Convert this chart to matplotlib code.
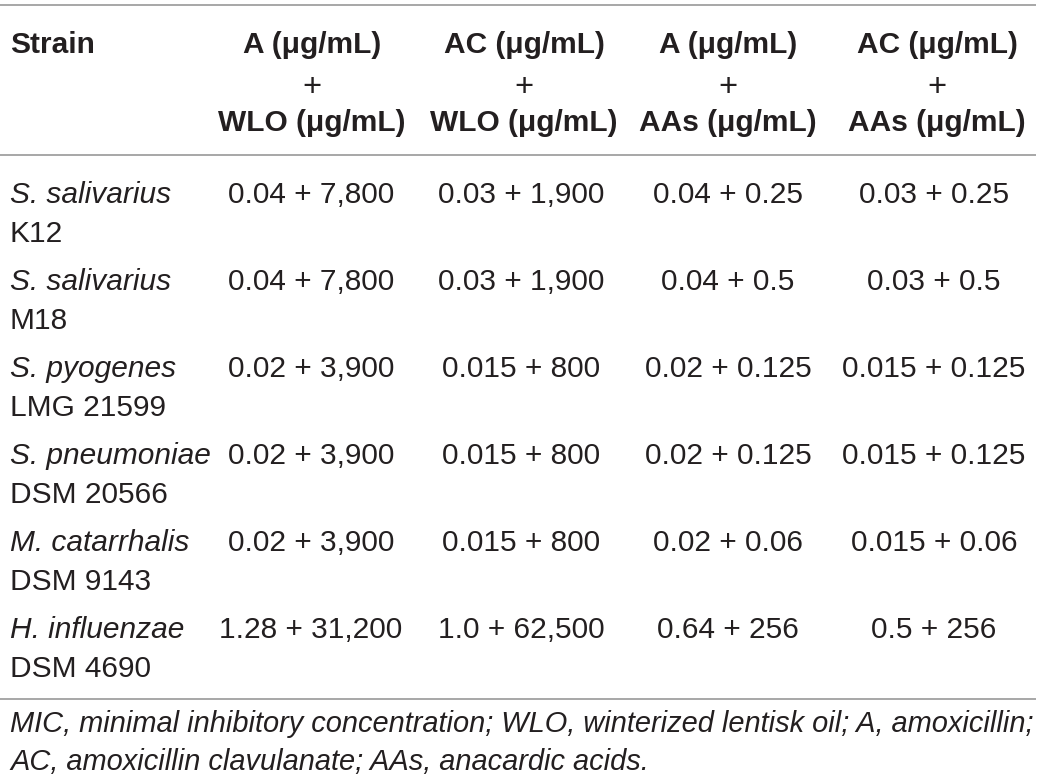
import matplotlib.pyplot as plt

# table content
strain_names = ["S. salivarius", "S. salivarius", "S. pyogenes", "S. pneumoniae",
                "M. catarrhalis", "H. influenzae"]
strain_ids = ["K12", "M18", "LMG 21599", "DSM 20566", "DSM 9143", "DSM 4690"]

header_top = ["A (μg/mL)", "AC (μg/mL)", "A (μg/mL)", "AC (μg/mL)"]
header_bottom = ["WLO (μg/mL)", "WLO (μg/mL)", "AAs (μg/mL)", "AAs (μg/mL)"]

a_wlo = ["0.04 + 7,800", "0.04 + 7,800", "0.02 + 3,900", "0.02 + 3,900",
         "0.02 + 3,900", "1.28 + 31,200"]
ac_wlo = ["0.03 + 1,900", "0.03 + 1,900", "0.015 + 800", "0.015 + 800",
          "0.015 + 800", "1.0 + 62,500"]
a_aas = ["0.04 + 0.25", "0.04 + 0.5", "0.02 + 0.125", "0.02 + 0.125",
         "0.02 + 0.06", "0.64 + 256"]
ac_aas = ["0.03 + 0.25", "0.03 + 0.5", "0.015 + 0.125", "0.015 + 0.125",
          "0.015 + 0.06", "0.5 + 256"]

footnote = ["MIC, minimal inhibitory concentration; WLO, winterized lentisk oil; A, amoxicillin;",
            "AC, amoxicillin clavulanate; AAs, anacardic acids."]

txt = "#231f20"
line_col = "#a0a0a0"
fs = 21.5
font = ["Liberation Sans", "DejaVu Sans"]

fig = plt.figure(figsize=(10.42, 7.84), dpi=100)
ax = fig.add_axes([0, 0, 1, 1])
ax.set_xlim(0, 1042)
ax.set_ylim(784, 0)
ax.axis("off")

# rules
for y in (5, 155, 699):
    ax.plot([0, 1036], [y, y], color=line_col, lw=1.3, solid_capstyle="butt")

head_x = [312, 524, 728, 937]
col_x = [311, 521, 728, 934]

ax.text(10, 53, "Strain", fontsize=fs, fontweight="bold", family=font,
        color=txt, va="baseline", ha="left")
for i in range(4):
    ax.text(head_x[i], 53, header_top[i], fontsize=fs, fontweight="bold",
            family=font, color=txt, va="baseline", ha="center")
    ax.text(head_x[i], 96, "+", fontsize=fs + 2, family=font, color=txt,
            va="baseline", ha="center")
    ax.text(head_x[i], 131, header_bottom[i], fontsize=fs, fontweight="bold",
            family=font, color=txt, va="baseline", ha="center")

columns = [a_wlo, ac_wlo, a_aas, ac_aas]
for r in range(len(strain_names)):
    y = 203 + r * 87
    ax.text(10, y, strain_names[r], fontsize=fs, style="italic", family=font,
            color=txt, va="baseline", ha="left")
    ax.text(10, y + 39, strain_ids[r], fontsize=fs, family=font,
            color=txt, va="baseline", ha="left")
    for c in range(4):
        ax.text(col_x[c], y, columns[c][r], fontsize=fs, family=font,
                color=txt, va="baseline", ha="center")

for k, line in enumerate(footnote):
    ax.text(10, 732 + k * 38, line, fontsize=20.9, style="italic",
            family=font, color=txt, va="baseline", ha="left")

fig.savefig("out.png", dpi=100)
